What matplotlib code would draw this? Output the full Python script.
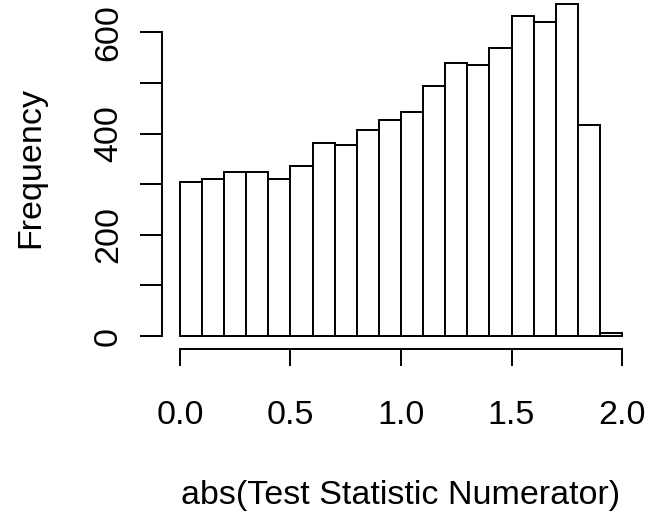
#!/usr/bin/env python3
# Histogram of abs(test statistic numerator), R base-graphics look.

import matplotlib
matplotlib.use("Agg")
import matplotlib.pyplot as plt
import numpy as np

bin_edges = [round(0.1 * i, 1) for i in range(21)]
counts = [305, 310, 325, 325, 310, 336, 381, 377, 407, 427,
          443, 493, 540, 535, 570, 632, 621, 656, 417, 5]
x_ticks = [0.0, 0.5, 1.0, 1.5, 2.0]
x_tick_labels = ["0.0", "0.5", "1.0", "1.5", "2.0"]
y_ticks = [0, 200, 400, 600]
y_minor = [100, 300, 500]

plt.rcParams["font.family"] = ["Liberation Sans", "DejaVu Sans"]
FS = 24.5
LW = 1.4

fig = plt.figure(figsize=(6.56, 5.11), dpi=100)
W, H = 656, 511
left, right = 162.3, 639.7
bottom, top = 349.3, -9.3
ax = fig.add_axes([left / W, (H - bottom) / H, (right - left) / W, (bottom - top) / H])

lefts = np.array(bin_edges[:-1])
widths = np.diff(bin_edges)
ax.bar(lefts, counts, width=widths, align="edge", facecolor="white",
       edgecolor="black", linewidth=LW)

ymax = max(counts)
ax.set_xlim(-0.04 * 2.0, 2.0 * 1.04)
ax.set_ylim(-0.04 * ymax, ymax * 1.04)

for s in ["top", "right"]:
    ax.spines[s].set_visible(False)
ax.spines["left"].set_bounds(0, 600)
ax.spines["bottom"].set_bounds(0, 2.0)
for s in ["left", "bottom"]:
    ax.spines[s].set_linewidth(LW)

ax.set_xticks(x_ticks)
ax.set_xticklabels(x_tick_labels)
ax.set_yticks(y_ticks + y_minor)
ax.set_yticklabels([str(v) for v in y_ticks] + [""] * len(y_minor))
ax.tick_params(axis="both", width=LW, labelsize=FS)
ax.tick_params(axis="x", length=12.5, pad=24)
ax.tick_params(axis="y", length=15.5, pad=12)
for lbl in ax.get_yticklabels():
    lbl.set_rotation(90)
    lbl.set_va("center")

fig.text(401 / W, 1 - 495 / H, "abs(Test Statistic Numerator)", ha="center",
         va="center", fontsize=FS)
fig.text(31 / W, 1 - 167 / H, "Frequency", ha="center", va="center",
         rotation=90, fontsize=FS)

fig.savefig("out.png", dpi=100)
